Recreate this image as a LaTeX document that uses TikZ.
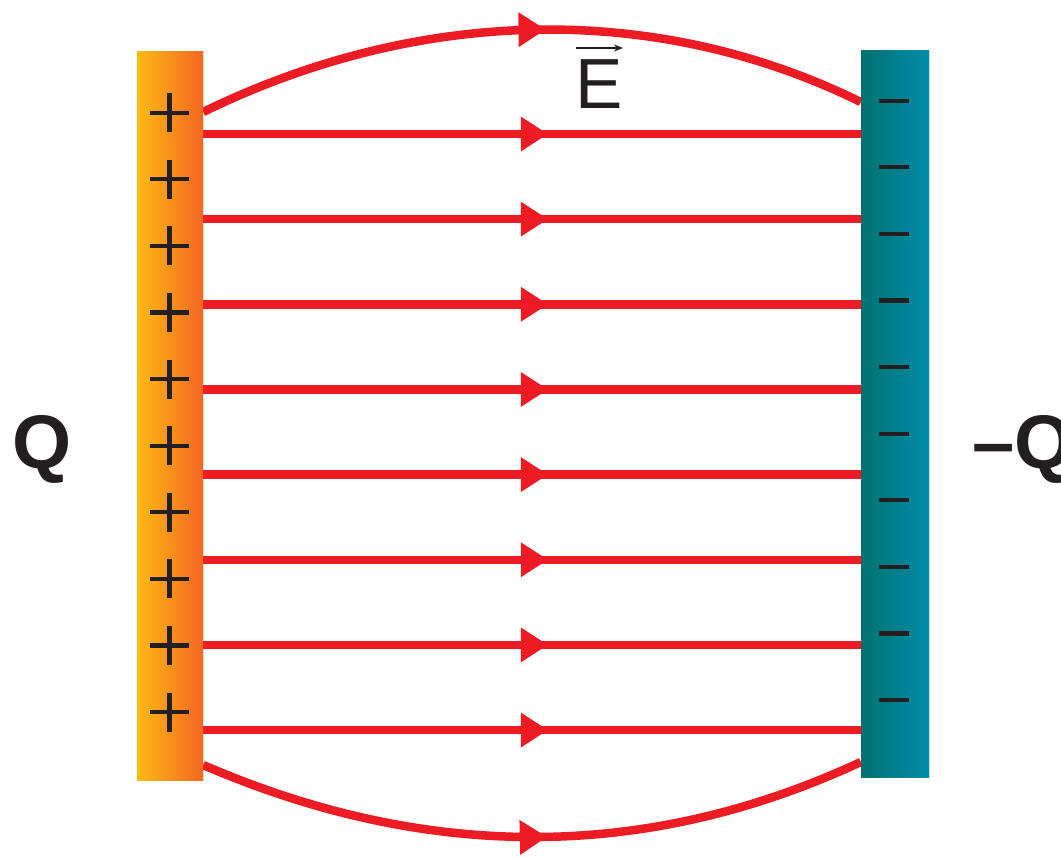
\documentclass[tikz,border=0pt]{standalone}
\usepackage{fontspec}
\setmainfont{Liberation Sans}
\usetikzlibrary{arrows.meta,decorations.markings}
\definecolor{fieldred}{HTML}{ED1C24}
\definecolor{posyellow}{HTML}{FDBA14}
\definecolor{posorange}{HTML}{F26822}
\definecolor{negdark}{HTML}{00716F}
\definecolor{neglight}{HTML}{008DAB}
\definecolor{signblack}{HTML}{231F20}
\begin{document}
\begin{tikzpicture}[x=1pt,y=-1pt,
  posplate/.style={rectangle, inner sep=0pt, minimum width=66pt, minimum height=728pt, left color=posyellow, right color=posorange},
  negplate/.style={rectangle, inner sep=0pt, minimum width=68pt, minimum height=726pt, left color=negdark, right color=neglight},
  fieldline/.style={draw=fieldred, color=fieldred, line width=8.5pt, postaction={decorate},
    decoration={markings, mark=at position #1 with {\arrow{Triangle[length=27pt,width=35pt,line width=0pt]}}}},
  sign/.style={draw=signblack, line width=4.2pt},
  qlabel/.style={inner sep=0pt, text=signblack, font=\fontsize{76}{80}\selectfont\bfseries},
  elabel/.style={inner sep=0pt, text=signblack, font=\fontsize{71}{75}\selectfont},
  vecarrow/.style={draw=signblack, line width=1.6pt, -{Stealth[length=9pt,width=7pt]}}
]
\useasboundingbox (0,0) rectangle (1061,859);

% plates (positions only, drawn later on top)
\path (170,416) node[posplate] (L) {};
\path (895,414) node[negplate] (R) {};

% field lines
\foreach \i in {0,...,7}{
  \pgfmathsetmacro{\yy}{134+85.15*\i}
  \draw[fieldline=0.524] (L.east |- 0,\yy) -- (R.west |- 0,\yy);
}
\draw[fieldline=0.521] (L.east |- 0,112) .. controls (414,9) and (651,-1) .. (R.west |- 0,102);
\draw[fieldline=0.521] (L.east |- 0,765) .. controls (430,863) and (650,860) .. (R.west |- 0,762);

% plates on top
\node[posplate] at (L) {};
\node[negplate] at (R) {};

% charges
\foreach \i in {0,...,9}{
  \pgfmathsetmacro{\py}{112.7+66.6*\i}
  \draw[sign] (150,\py) -- (189,\py) (169.5,\py-19.5) -- (169.5,\py+19.5);
  \pgfmathsetmacro{\my}{100.7+66.6*\i}
  \draw[sign] (879,\my) -- (909,\my);
}

% labels
\node[qlabel, anchor=base] (q) at (42.5,468) {Q};
\node[qlabel, anchor=base west] (mq) at (972,468) {–Q};
\node[elabel, anchor=base] (E) at (599.5,108) {E};
\coordinate (ea) at (576,48);
\coordinate (eb) at (623,48);
\draw[vecarrow] (ea) -- (eb);
\end{tikzpicture}
\end{document}
